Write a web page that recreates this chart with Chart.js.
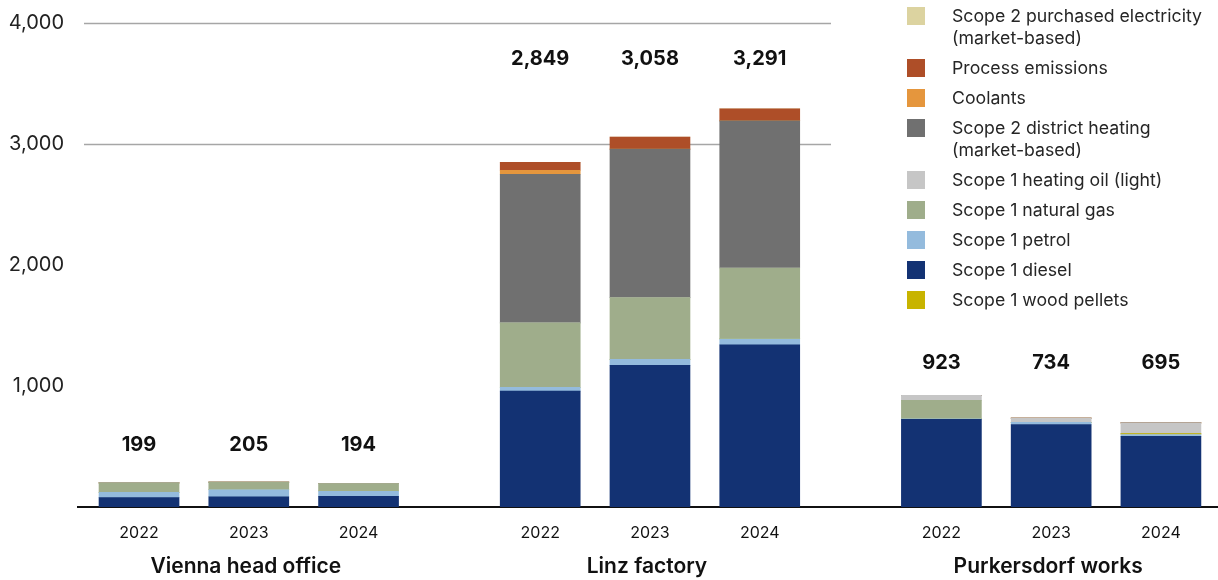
<!DOCTYPE html>
<html>
<head>
<meta charset="utf-8">
<script src="https://cdn.jsdelivr.net/npm/chart.js@4.4.1/dist/chart.umd.min.js"></script>
<style>
    html, body { margin: 0; padding: 0; background: #fff; }
    #wrap { width: 1218px; height: 580px; position: relative; }
</style>
</head>
<body>
<div id="wrap"><canvas id="emissions"></canvas></div>
<script>
// sites and reporting years
var sites = ["Vienna head office", "Linz factory", "Purkersdorf works"];
var years = ["2022", "2023", "2024"];

// t CO2e per source, one value per site/year (Vienna 22-24, Linz 22-24, Purkersdorf 22-24)
var diesel      = [78, 85, 88, 957, 1170, 1340, 725, 682, 584];
var petrol      = [43, 60, 44, 33, 50, 50, 6, 17, 15];
var woodPellets = [0, 0, 0, 0, 0, 0, 0, 0, 7];
var naturalGas  = [78, 60, 62, 532, 510, 585, 150, 0, 0];
var heatingOil  = [0, 0, 0, 0, 0, 0, 42, 35, 89];
var districtHeating = [0, 0, 0, 1228, 1228, 1216, 0, 0, 0];
var coolants    = [0, 0, 0, 33, 0, 0, 0, 0, 0];
var processEm   = [0, 0, 0, 66, 100, 100, 0, 0, 0];
var electricity = [0, 0, 0, 0, 0, 0, 0, 0, 0];

var yTicks = [0, 1000, 2000, 3000, 4000];

var FONT = "Inter, 'Noto Sans', sans-serif";
var GROUP_STRIDE = 3.655;
var labelLift = [37, 50, 32];

var xs = [];
sites.forEach(function (s, gi) {
    years.forEach(function (y, yi) {
        xs.push(gi * GROUP_STRIDE + yi);
    });
});

function points(values) {
    return values.map(function (v, i) { return {x: xs[i], y: v}; });
}

// stacking order, bottom to top
var series = [
    {label: "Scope 1 diesel", data: diesel, color: "#133273"},
    {label: "Scope 1 petrol", data: petrol, color: "#94BBDD"},
    {label: "Scope 1 wood pellets", data: woodPellets, color: "#C8B400"},
    {label: "Scope 1 natural gas", data: naturalGas, color: "#9FAD8B"},
    {label: "Scope 1 heating oil (light)", data: heatingOil, color: "#C6C6C6"},
    {label: ["Scope 2 district heating", "(market-based)"], data: districtHeating, color: "#707070"},
    {label: "Coolants", data: coolants, color: "#E5963D"},
    {label: "Process emissions", data: processEm, color: "#AE4E28"},
    {label: ["Scope 2 purchased electricity", "(market-based)"], data: electricity, color: "#DCD3A0"}
];
// legend rows, top to bottom
var legendOrder = [8, 7, 6, 5, 4, 3, 1, 0, 2];

var totals = xs.map(function (x, i) {
    return series.reduce(function (sum, s) { return sum + s.data[i]; }, 0);
});

var sideLegend = {
    id: 'sideLegend',
    afterDraw: function (chart) {
        var ctx = chart.ctx;
        var top = 17;
        ctx.save();
        ctx.font = "17.7px " + FONT;
        ctx.textBaseline = 'middle';
        ctx.textAlign = 'left';
        legendOrder.forEach(function (idx) {
            var ds = chart.data.datasets[idx];
            var lines = [].concat(series[idx].label);
            ctx.fillStyle = ds.backgroundColor;
            ctx.fillRect(907, top - 10, 18, 18);
            ctx.fillStyle = '#262626';
            lines.forEach(function (t, li) {
                ctx.fillText(t, 952, top + li * 22);
            });
            top += 30 + (lines.length - 1) * 22;
        });
        ctx.restore();
    }
};

var partialGrid = {
    id: 'partialGrid',
    beforeDatasetsDraw: function (chart) {
        var ctx = chart.ctx;
        var y = chart.scales.y;
        ctx.save();
        ctx.strokeStyle = '#A6A6A6';
        ctx.lineWidth = 1.3;
        y.ticks.forEach(function (t) {
            if (t.value < 3000) return;
            var py = Math.round(y.getPixelForValue(t.value)) + 0.5;
            ctx.beginPath();
            ctx.moveTo(chart.chartArea.left + 6, py);
            ctx.lineTo(831, py);
            ctx.stroke();
        });
        ctx.restore();
    }
};

var barLabels = {
    id: 'barLabels',
    afterDatasetsDraw: function (chart) {
        var ctx = chart.ctx;
        var x = chart.scales.x;
        var y = chart.scales.y;
        ctx.save();
        ctx.textAlign = 'center';
        ctx.textBaseline = 'middle';
        sites.forEach(function (site, gi) {
            var groupTotals = totals.slice(gi * 3, gi * 3 + 3);
            var ly = y.getPixelForValue(Math.max.apply(null, groupTotals)) - labelLift[gi];
            ctx.font = "bold 20px " + FONT;
            ctx.fillStyle = '#111';
            groupTotals.forEach(function (t, yi) {
                ctx.fillText(t.toLocaleString('en-US'), x.getPixelForValue(xs[gi * 3 + yi]), ly);
            });
            ctx.font = "600 21px " + FONT;
            ctx.fillText(site, x.getPixelForValue(xs[gi * 3 + 1]) - 3, 567);
        });
        ctx.restore();
    }
};

new Chart(document.getElementById('emissions'), {
    type: 'bar',
    data: {
        datasets: series.map(function (s) {
            return {
                label: [].concat(s.label).join(' '),
                data: points(s.data),
                backgroundColor: s.color,
                borderWidth: 0,
                barThickness: 80
            };
        })
    },
    options: {
        responsive: true,
        maintainAspectRatio: false,
        animation: false,
        layout: {padding: {top: 20, left: 0, right: 0, bottom: 0}},
        plugins: {
            legend: {display: false},
            tooltip: {enabled: false}
        },
        scales: {
            x: {
                type: 'linear',
                stacked: true,
                min: -0.556,
                max: 9.83,
                offset: false,
                grid: {display: false, drawTicks: false},
                border: {display: true, color: '#111', width: 2},
                afterBuildTicks: function (scale) {
                    scale.ticks = xs.map(function (v) { return {value: v}; });
                },
                afterFit: function (scale) { scale.height = 73; },
                ticks: {
                    autoSkip: false,
                    maxRotation: 0,
                    padding: 17,
                    color: '#111',
                    font: {family: FONT, size: 16},
                    callback: function (value, index) { return years[index % years.length]; }
                }
            },
            y: {
                stacked: true,
                min: 0,
                max: 4000,
                grid: {display: false, drawTicks: false},
                border: {display: false},
                afterBuildTicks: function (scale) {
                    scale.ticks = yTicks.map(function (v) { return {value: v}; });
                },
                afterFit: function (scale) { scale.width = 78; },
                ticks: {
                    padding: 14,
                    color: '#222',
                    font: {family: FONT, size: 20, lineHeight: 0.9},
                    callback: function (value) { return value === 0 ? '' : value.toLocaleString('en-US'); }
                }
            }
        }
    },
    plugins: [partialGrid, barLabels, sideLegend]
});
</script>
</body>
</html>
